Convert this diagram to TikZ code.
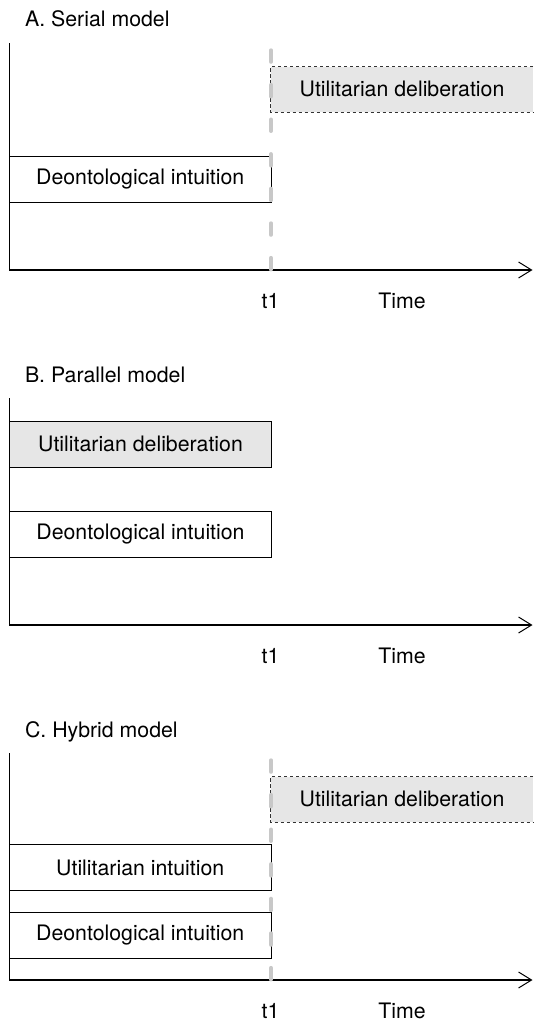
\documentclass[tikz,border=0pt]{standalone}
\usepackage{fontspec}
\setmainfont{TeX Gyre Heros}
\usetikzlibrary{arrows.meta}
\definecolor{boxgray}{RGB}{230,230,230}
\definecolor{dividergray}{RGB}{200,200,200}
\definecolor{edgegray}{RGB}{50,50,50}

\begin{document}
\begin{tikzpicture}[x=1pt, y=-1pt, font=\fontsize{21.3}{26}\selectfont,
    box/.style={draw, line width=0.9pt, minimum width=261.5pt, minimum height=45.3pt, inner sep=0pt},
    delib/.style={fill=boxgray, minimum width=262pt, minimum height=45.3pt, inner sep=0pt},
    dashedline/.style={draw=edgegray, line width=0.9pt, dash pattern=on 3.5pt off 2.5pt},
    axis/.style={line width=1.2pt, -{Straight Barb[length=13pt, width=16pt, line width=1pt]}},
    divider/.style={draw=dividergray, line width=4pt, line cap=round, dash pattern=on 11.5pt off 23.1pt}]
      \useasboundingbox (0,0) rectangle (533,1024);

      % Axes and labels
      \foreach \off/\name [count=\i] in {0/A. Serial model, 355/B. Parallel model, 710/C. Hybrid model} {
        \node[anchor=base west] (title\i) at (21.5, 27+\off) {\name};
        \draw[axis] (9.5, 43.3+\off) -- (9.5, 270+\off) -- (532.5, 270+\off);
        \node[anchor=base] (tone\i) at (270.5, 308.5+\off) {t1};
        \node[anchor=base] (time\i) at (402, 308.5+\off) {Time};
      }

      % A. Serial model
      \node[box] (deontA) at (140.25, 179.5) {Deontological intuition};
      \node[delib] (delibA) at (402, 89.3) {Utilitarian deliberation};
      \draw[dashedline] (delibA.north east) -- (delibA.north west) -- (delibA.south west) -- (delibA.south east);

      % B. Parallel model
      \node[box, fill=boxgray] (delibB) at (140.5, 444.3) {Utilitarian deliberation};
      \node[box] (deontB) at (140.5, 534.3) {Deontological intuition};

      % C. Hybrid model
      \node[box] (utilC) at (140.25, 867.5) {Utilitarian intuition};
      \node[box] (deontC) at (140.25, 935.5) {Deontological intuition};
      \node[delib] (delibC) at (402, 799.3) {Utilitarian deliberation};
      \draw[dashedline] (delibC.north east) -- (delibC.north west) -- (delibC.south west) -- (delibC.south east);

      % t1 dividers
      \foreach \off in {0, 710} {
        \draw[divider] (271, 50.3+\off) -- (271, 270+\off);
      }
    \end{tikzpicture}
\end{document}
